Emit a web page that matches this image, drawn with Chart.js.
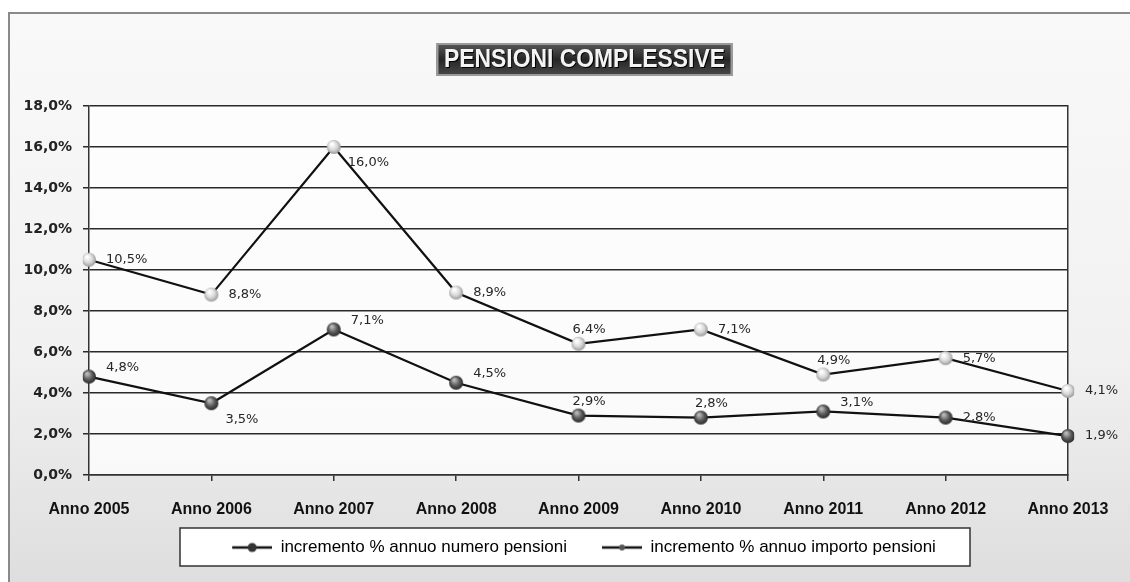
<!DOCTYPE html>
<html>
<head>
<meta charset="utf-8">
<script src="https://cdn.jsdelivr.net/npm/chart.js@4"></script>
<style>
  html, body { margin: 0; padding: 0; background: #fff; }
  #wrap { width: 1130px; height: 582px; }
</style>
</head>
<body>
<div id="wrap"><canvas id="chart" width="1130" height="582"></canvas></div>
<script>
const years = ['Anno 2005', 'Anno 2006', 'Anno 2007', 'Anno 2008', 'Anno 2009', 'Anno 2010', 'Anno 2011', 'Anno 2012', 'Anno 2013'];
const numeroPensioni = [4.8, 3.5, 7.1, 4.5, 2.9, 2.8, 3.1, 2.8, 1.9];
const importoPensioni = [10.5, 8.8, 16.0, 8.9, 6.4, 7.1, 4.9, 5.7, 4.1];
const yTicks = [0, 2, 4, 6, 8, 10, 12, 14, 16, 18];

// where each value label sits around its point: r = right, ra = right/above, rb = right/below, a = above
const numeroLabelPos = ['ra', 'rb', 'ra', 'ra', 'a', 'a', 'ra', 'r', 'r'];
const importoLabelPos = ['r', 'r', 'rb', 'r', 'a', 'r', 'a', 'r', 'r'];

function pct(v) {
    return v.toFixed(1).replace('.', ',') + '%';
}

function sphere(light) {
    const c = document.createElement('canvas');
    c.width = 16; c.height = 16;
    const g = c.getContext('2d');
    const grad = g.createRadialGradient(6, 5, 1, 8, 8, 8);
    if (light) {
        grad.addColorStop(0, '#ffffff');
        grad.addColorStop(0.5, '#d8d8d8');
        grad.addColorStop(1, '#8a8a8a');
    } else {
        grad.addColorStop(0, '#b8b8b8');
        grad.addColorStop(0.5, '#5a5a5a');
        grad.addColorStop(1, '#1e1e1e');
    }
    g.fillStyle = grad;
    g.beginPath();
    g.arc(8, 8, 7, 0, Math.PI * 2);
    g.fill();
    return c;
}

// legend swatch: short blank lead-in (spacing between items), then the line with its dot
function legendMarker(dotColor, r) {
    const c = document.createElement('canvas');
    c.width = 51; c.height = 12;
    const g = c.getContext('2d');
    g.strokeStyle = '#111';
    g.lineWidth = 2.5;
    g.beginPath();
    g.moveTo(11, 6); g.lineTo(51, 6);
    g.stroke();
    g.fillStyle = dotColor;
    g.beginPath();
    g.arc(31, 6, r, 0, Math.PI * 2);
    g.fill();
    return c;
}

const markers = [sphere(false), sphere(true)];
const legendMarkers = [legendMarker('#333', 4.5), legendMarker('#555', 3)];

// page frame, white plot area and the boxed legend background
const backdrop = {
    id: 'backdrop',
    beforeDraw(chart) {
        const {ctx, width, height, chartArea} = chart;
        ctx.save();
        ctx.fillStyle = '#ffffff';
        ctx.fillRect(0, 0, width, height);
        const grad = ctx.createLinearGradient(0, 12, 0, height);
        grad.addColorStop(0, '#f9f9f9');
        grad.addColorStop(0.6, '#f1f1f1');
        grad.addColorStop(1, '#dedede');
        ctx.fillStyle = grad;
        ctx.fillRect(8, 12, width - 8, height - 12);
        ctx.strokeStyle = '#8a8a8a';
        ctx.lineWidth = 2;
        ctx.beginPath();
        ctx.moveTo(9, height); ctx.lineTo(9, 13); ctx.lineTo(width, 13);
        ctx.stroke();
        ctx.fillStyle = 'rgba(255,255,255,0.75)';
        ctx.fillRect(chartArea.left, chartArea.top, chartArea.right - chartArea.left, chartArea.bottom - chartArea.top);

        ctx.fillStyle = '#ffffff';
        ctx.strokeStyle = '#333';
        ctx.lineWidth = 1.5;
        ctx.fillRect(180, 528, 790, 38);
        ctx.strokeRect(180, 528, 790, 38);
        ctx.restore();
    }
};

const titleBox = {
    id: 'titleBox',
    afterDraw(chart) {
        const {ctx, chartArea} = chart;
        const text = 'PENSIONI COMPLESSIVE';
        const cx = (chartArea.left + chartArea.right) / 2 + 6;
        const w = 296, h = 33, top = 43;
        ctx.save();
        const grad = ctx.createLinearGradient(0, top, 0, top + h);
        grad.addColorStop(0, '#5a5a5a');
        grad.addColorStop(0.5, '#262626');
        grad.addColorStop(1, '#4a4a4a');
        ctx.fillStyle = grad;
        ctx.fillRect(cx - w / 2, top, w, h);
        ctx.strokeStyle = '#9a9a9a';
        ctx.lineWidth = 2;
        ctx.strokeRect(cx - w / 2 + 1, top + 1, w - 2, h - 2);
        ctx.font = 'bold 25px "Liberation Sans", sans-serif';
        const tw = ctx.measureText(text).width;
        ctx.translate(cx, top + h / 2 + 1);
        ctx.scale(281 / tw, 1);
        ctx.textAlign = 'center';
        ctx.textBaseline = 'middle';
        ctx.fillStyle = '#000';
        ctx.fillText(text, 1, 1);
        ctx.fillStyle = '#f4f4f4';
        ctx.fillText(text, 0, 0);
        ctx.restore();
    }
};

const valueLabels = {
    id: 'valueLabels',
    afterDatasetsDraw(chart) {
        const {ctx} = chart;
        const placements = [numeroLabelPos, importoLabelPos];
        ctx.save();
        ctx.font = '13px "DejaVu Sans", sans-serif';
        ctx.fillStyle = '#262626';
        ctx.textAlign = 'left';
        ctx.textBaseline = 'middle';
        chart.data.datasets.forEach((ds, di) => {
            chart.getDatasetMeta(di).data.forEach((pt, i) => {
                const pos = placements[di][i];
                let dx = 17, dy = 0;
                if (pos === 'ra') { dy = -9; }
                if (pos === 'rb') { dx = 14; dy = 16; }
                if (pos === 'a') { dx = -6; dy = -14; }
                ctx.fillText(pct(ds.data[i]), pt.x + dx, pt.y + dy);
            });
        });
        ctx.restore();
    }
};

const tickFont = { family: '"DejaVu Sans", sans-serif', size: 14, weight: 'bold' };
const catFont = { family: '"Liberation Sans", sans-serif', size: 16, weight: 'bold' };

new Chart(document.getElementById('chart'), {
    type: 'line',
    data: {
        labels: years,
        datasets: [{
            label: 'incremento % annuo numero pensioni',
            data: numeroPensioni,
            borderColor: '#111',
            borderWidth: 2.2,
            pointStyle: markers[0],
            legendMarker: legendMarkers[0],
            tension: 0
        }, {
            label: 'incremento % annuo importo pensioni',
            data: importoPensioni,
            borderColor: '#111',
            borderWidth: 2.2,
            pointStyle: markers[1],
            legendMarker: legendMarkers[1],
            tension: 0
        }]
    },
    options: {
        responsive: false,
        animation: false,
        layout: { padding: { left: 0, right: 62, top: 106, bottom: 16 } },
        plugins: {
            title: { display: false },
            tooltip: { enabled: false },
            legend: {
                position: 'bottom',
                fullSize: false,
                labels: {
                    usePointStyle: true,
                    pointStyleWidth: 51,
                    padding: 24,
                    color: '#222',
                    font: { family: '"Liberation Sans", sans-serif', size: 17 },
                    generateLabels(chart) {
                        return chart.data.datasets.map((ds, i) => ({
                            text: ds.label,
                            pointStyle: ds.legendMarker,
                            fillStyle: '#000',
                            strokeStyle: '#000',
                            lineWidth: 0,
                            hidden: false,
                            datasetIndex: i
                        }));
                    }
                }
            }
        },
        scales: {
            x: {
                offset: false,
                grid: { drawOnChartArea: false, tickLength: 6, color: '#333', lineWidth: 1.5 },
                border: { color: '#333', width: 1.5 },
                ticks: { font: catFont, color: '#111', padding: 19, maxRotation: 0, autoSkip: false },
                afterFit(s) { s.height = 40; }
            },
            y: {
                min: 0,
                max: 18,
                afterBuildTicks(s) { s.ticks = yTicks.map(v => ({ value: v })); },
                grid: { color: '#2a2a2a', lineWidth: 1.5, tickLength: 6 },
                border: { color: '#333', width: 1.5 },
                ticks: { font: tickFont, color: '#222', padding: 11, callback: v => pct(v) },
                afterFit(s) { s.width = 89; }
            },
            y2: {
                position: 'right',
                min: 0,
                max: 18,
                grid: { drawOnChartArea: false, drawTicks: false },
                border: { display: true, color: '#333', width: 1.5 },
                ticks: { display: false },
                afterFit(s) { s.width = 0; }
            }
        }
    },
    plugins: [backdrop, valueLabels, titleBox]
});
</script>
</body>
</html>
